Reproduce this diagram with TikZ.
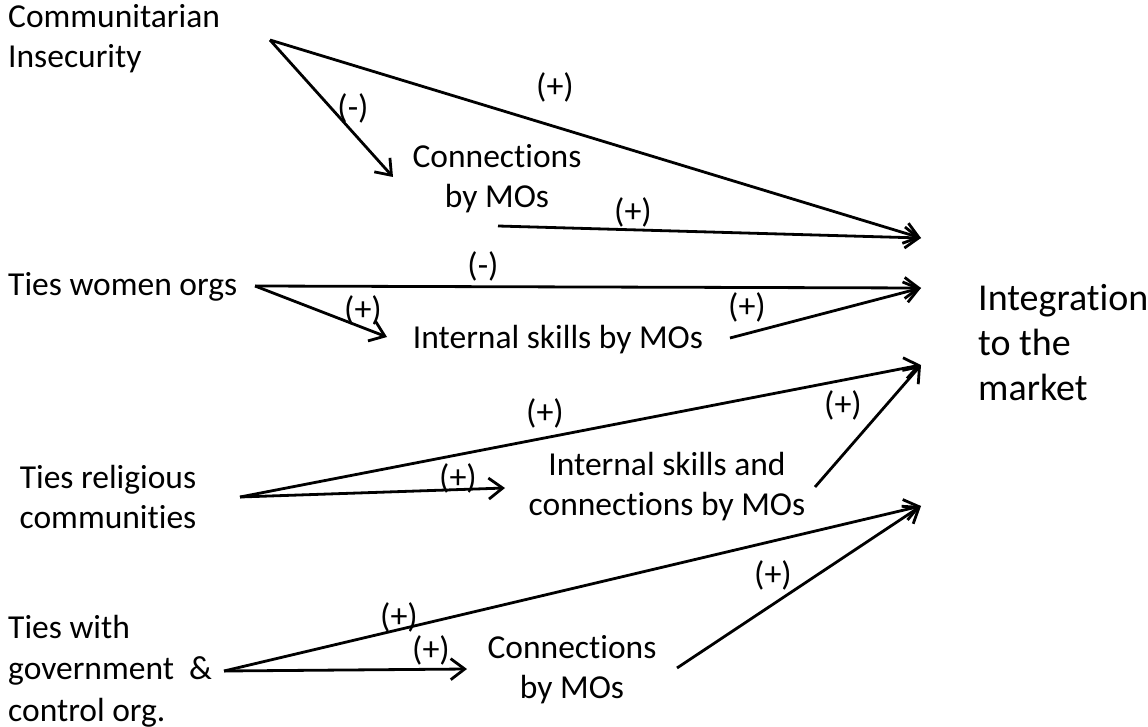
\documentclass[tikz,border=0pt]{standalone}
\usepackage{fontspec}
\setmainfont{Carlito}[Ligatures={NoCommon}]
\usetikzlibrary{arrows.meta}
\tikzset{
  lbl/.style={inner sep=0pt, font=\fontsize{33.5}{40}\selectfont},
  sgn/.style={inner sep=0pt, font=\fontsize{34}{40}\selectfont},
  arr/.style={line width=2.8pt, -{Straight Barb[length=14pt,width=21pt]}},
}
\begin{document}
\begin{tikzpicture}[x=1pt,y=-1pt]
\useasboundingbox (0,0) rectangle (1148,727);
% text nodes (base anchor = baseline of last line)
\node[lbl, anchor=base west, align=left] (ci) at (8,68) {Communitarian\\Insecurity};
\node[lbl, anchor=base, align=center] (cm1) at (497,208) {Connections\\by MOs};
\node[lbl, anchor=base west] (tw) at (8,295) {Ties women orgs};
\node[lbl, anchor=base] (is) at (558,348) {Internal skills by MOs};
\node[lbl, anchor=base west, align=left, font=\fontsize{38}{45}\selectfont] (im) at (978,400) {Integration\\to the\\market};
\node[lbl, anchor=base, align=center] (tr) at (108,528) {Ties religious\\communities};
\node[lbl, anchor=base, align=center] (isc) at (667,515) {Internal skills and\\connections by MOs};
\node[lbl, anchor=base west, align=left, font=\fontsize{33.5}{41.5}\selectfont] (tg) at (8,721) {Ties with\\government \ \&\\control org.};
\node[lbl, anchor=base, align=center] (cm2) at (572,698) {Connections\\by MOs};
% connector end points
\coordinate (ciA) at (270,40);
\coordinate (cm1In) at (393,177);
\coordinate (cm1Out) at (498,226);
\coordinate (imA) at (921,238);
\coordinate (twA) at (255,286);
\coordinate (imB) at (921,288);
\coordinate (isIn) at (387,337);
\coordinate (isOut) at (730,338);
\coordinate (trA) at (240,497);
\coordinate (imC) at (921,365);
\coordinate (iscIn) at (505,488);
\coordinate (iscOut) at (815,487);
\coordinate (tgA) at (224,671);
\coordinate (imD) at (921,506);
\coordinate (cm2In) at (467,669);
\coordinate (cm2Out) at (677,668);
% connectors
\draw[arr] (ciA) -- (imA);
\draw[arr] (ciA) -- (cm1In);
\draw[arr] (cm1Out) -- (imA);
\draw[arr] (twA) -- (imB);
\draw[arr] (twA) -- (isIn);
\draw[arr] (isOut) -- (imB);
\draw[arr] (trA) -- (imC);
\draw[arr] (trA) -- (iscIn);
\draw[arr] (iscOut) -- (imC);
\draw[arr] (tgA) -- (imD);
\draw[arr] (tgA) -- (cm2In);
\draw[arr] (cm2Out) -- (imD);
% signs
\node[sgn] (s1) at (555,87) {(+)};
\node[sgn] (s2) at (353,108) {(-)};
\node[sgn] (s3) at (633,212) {(+)};
\node[sgn] (s4) at (483,266) {(-)};
\node[sgn] (s5) at (363,310) {(+)};
\node[sgn] (s6) at (747,307) {(+)};
\node[sgn] (s7) at (545,413) {(+)};
\node[sgn] (s8) at (458,478) {(+)};
\node[sgn] (s9) at (843,405) {(+)};
\node[sgn] (s10) at (399,617) {(+)};
\node[sgn] (s11) at (431,650) {(+)};
\node[sgn] (s12) at (773,575) {(+)};
\end{tikzpicture}
\end{document}
